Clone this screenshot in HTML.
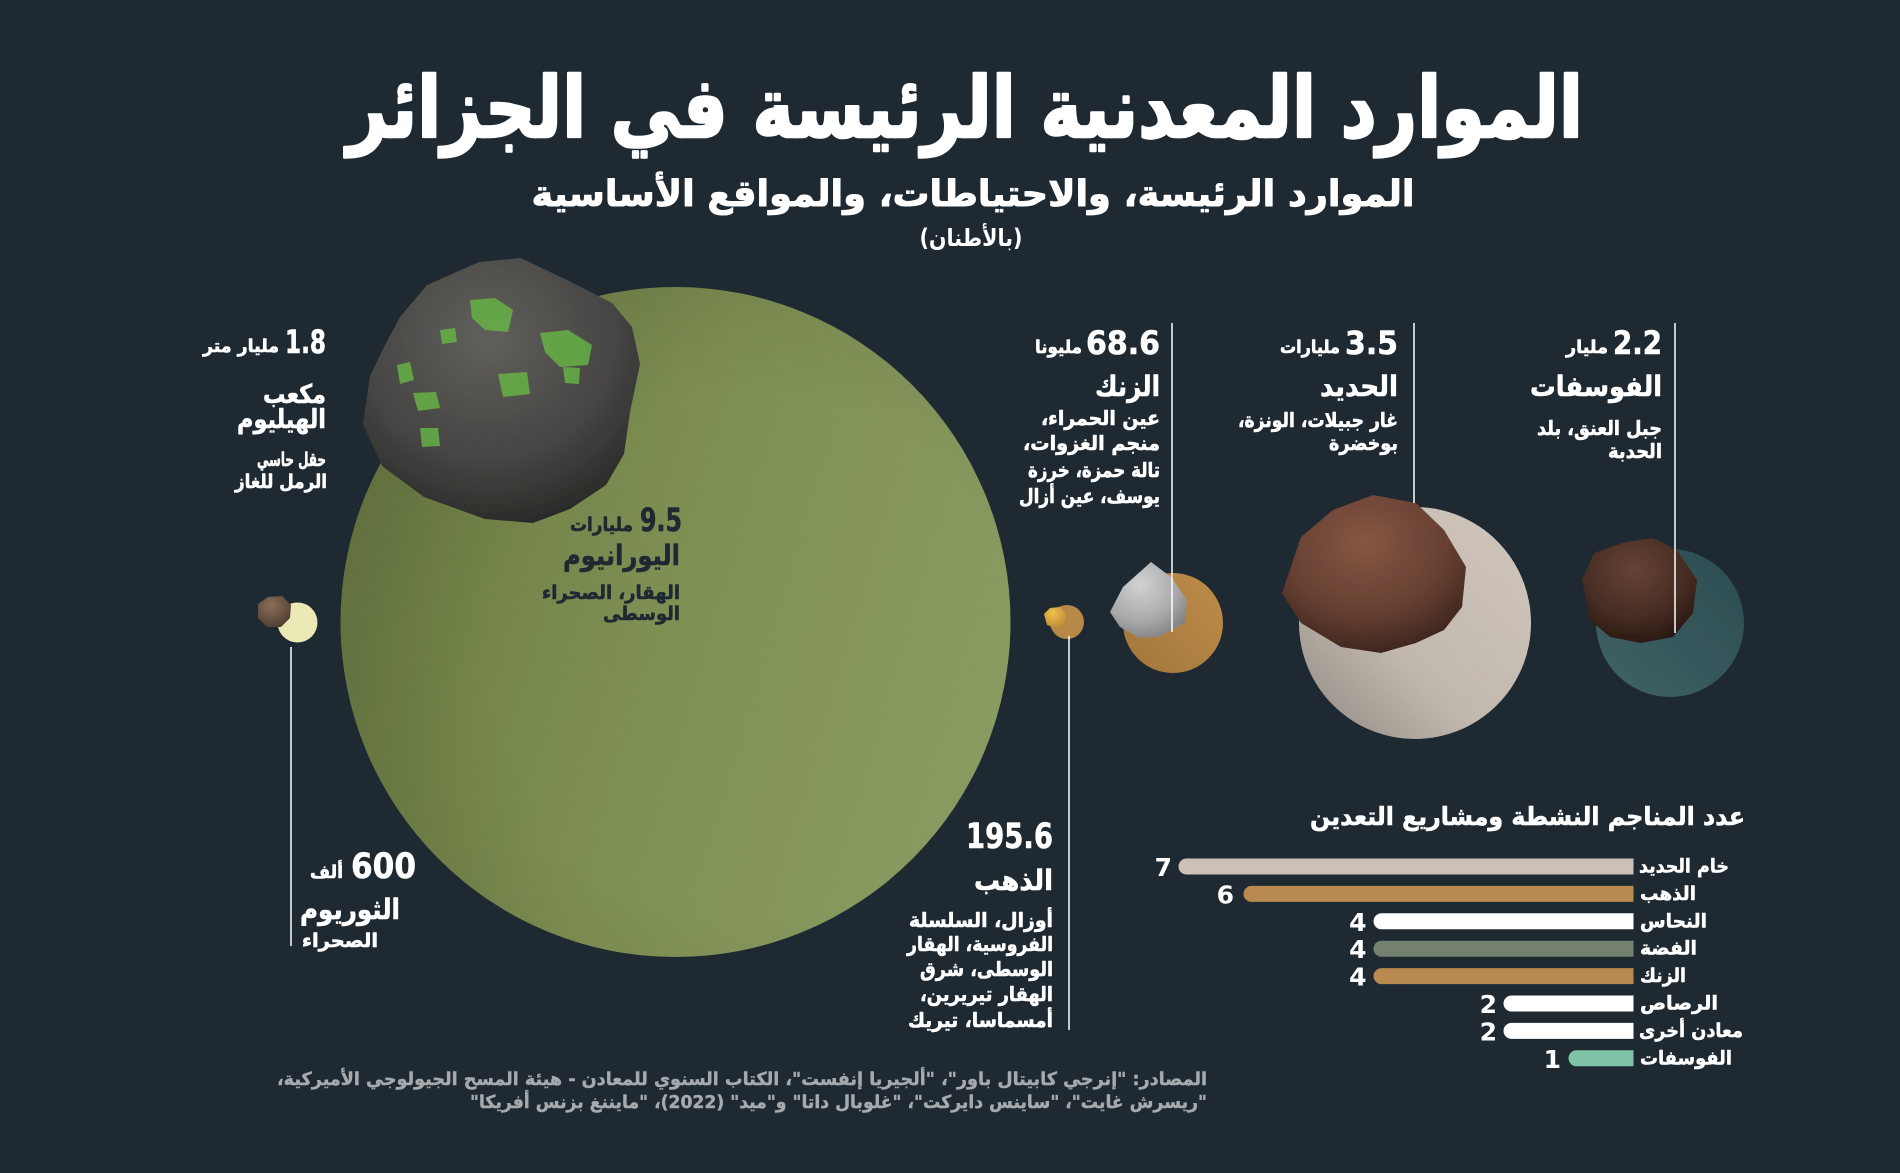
<!DOCTYPE html>
<html><head><meta charset="utf-8">
<style>
html,body{margin:0;padding:0;background:#1e2932;}
svg{display:block;}
text{font-family:"DejaVu Sans","Liberation Sans",sans-serif;font-weight:bold;}
</style></head>
<body>
<svg width="1900" height="1173" viewBox="0 0 1900 1173" xmlns="http://www.w3.org/2000/svg">
<defs>
  <linearGradient id="gG" x1="0" y1="0.35" x2="1" y2="0.65">
    <stop offset="0" stop-color="#6d7e45"/>
    <stop offset="0.45" stop-color="#829356"/>
    <stop offset="1" stop-color="#8fa066"/>
  </linearGradient>
  <radialGradient id="gGv" cx="0.62" cy="0.55" r="0.6">
    <stop offset="0.65" stop-color="#000" stop-opacity="0"/>
    <stop offset="1" stop-color="#000" stop-opacity="0.08"/>
  </radialGradient>
  <linearGradient id="gIron" x1="0" y1="1" x2="1" y2="0">
    <stop offset="0" stop-color="#938d86"/>
    <stop offset="0.4" stop-color="#c6bdb3"/>
    <stop offset="1" stop-color="#d6ccc2"/>
  </linearGradient>
  <linearGradient id="gZinc" x1="0" y1="1" x2="1" y2="0">
    <stop offset="0" stop-color="#a77a3e"/>
    <stop offset="1" stop-color="#c4914b"/>
  </linearGradient>
  <linearGradient id="gPh" x1="0" y1="1" x2="1" y2="0">
    <stop offset="0" stop-color="#426769"/>
    <stop offset="1" stop-color="#2f4e53"/>
  </linearGradient>
  <radialGradient id="gU" cx="0.45" cy="0.3" r="0.75">
    <stop offset="0" stop-color="#65635f"/>
    <stop offset="0.6" stop-color="#4a4947"/>
    <stop offset="1" stop-color="#2a2a29"/>
  </radialGradient>
  <radialGradient id="gFe" cx="0.45" cy="0.3" r="0.75">
    <stop offset="0" stop-color="#8a5b47"/>
    <stop offset="0.6" stop-color="#6a4234"/>
    <stop offset="1" stop-color="#3a2620"/>
  </radialGradient>
  <radialGradient id="gP" cx="0.45" cy="0.3" r="0.75">
    <stop offset="0" stop-color="#6a4538"/>
    <stop offset="0.6" stop-color="#4a3028"/>
    <stop offset="1" stop-color="#2a1c18"/>
  </radialGradient>
  <radialGradient id="gZn" cx="0.4" cy="0.3" r="0.8">
    <stop offset="0" stop-color="#d8d8d8"/>
    <stop offset="0.6" stop-color="#aeaeae"/>
    <stop offset="1" stop-color="#7d7d7d"/>
  </radialGradient>
  <radialGradient id="gHe" cx="0.4" cy="0.3" r="0.8">
    <stop offset="0" stop-color="#8a6f58"/>
    <stop offset="1" stop-color="#4a3a30"/>
  </radialGradient>
  <radialGradient id="gAu" cx="0.4" cy="0.3" r="0.8">
    <stop offset="0" stop-color="#f0c050"/>
    <stop offset="1" stop-color="#b8862c"/>
  </radialGradient>
  <filter id="grain" x="0" y="0" width="100%" height="100%">
    <feTurbulence type="fractalNoise" baseFrequency="0.8" numOctaves="2" seed="3" result="n"/>
    <feColorMatrix type="matrix" in="n" values="0 0 0 0 0  0 0 0 0 0  0 0 0 0 0  0 0 0 0.12 0" result="a"/>
    <feComposite in="a" in2="SourceGraphic" operator="in" result="gi"/>
    <feMerge><feMergeNode in="SourceGraphic"/><feMergeNode in="gi"/></feMerge>
  </filter>
</defs>

<rect width="1900" height="1173" fill="#1e2932"/>

<!-- Title -->
<text x="965" y="137" text-anchor="middle" font-size="84" fill="#fff" stroke="#fff" stroke-width="2.5" stroke-linejoin="round" textLength="1236" lengthAdjust="spacingAndGlyphs">&#x202B;الموارد المعدنية الرئيسة في الجزائر&#x202C;</text>
<text x="973" y="206" text-anchor="middle" font-size="36" fill="#fff" stroke="#fff" stroke-width="1" stroke-linejoin="round" textLength="883" lengthAdjust="spacingAndGlyphs">&#x202B;الموارد الرئيسة، والاحتياطات، والمواقع الأساسية&#x202C;</text>
<text x="971" y="246" text-anchor="middle" font-size="24" fill="#fff" textLength="103" lengthAdjust="spacingAndGlyphs">&#x202B;(بالأطنان)&#x202C;</text>

<!-- Big green circle -->
<g filter="url(#grain)">
<circle cx="675.5" cy="622" r="335" fill="url(#gG)"/>
</g>
<circle cx="675.5" cy="622" r="335" fill="url(#gGv)"/>

<!-- Uranium rock -->
<g filter="url(#grain)">
  <path d="M400,317 L427,285 L479,262 L521,258 L569,281 L612,303 L632,327 L640,364 L630,412 L624,454 L606,485 L570,509 L533,523 L485,519 L424,497 L382,466 L363,424 L370,376 L385,345 Z" fill="url(#gU)"/>
  <g fill="#6bbd48" opacity="0.8">
    <path d="M470,300 L495,298 L513,310 L508,332 L485,330 L472,318 Z"/>
    <path d="M540,333 L568,330 L592,345 L588,365 L560,367 L545,352 Z"/>
    <path d="M397,365 L410,362 L414,380 L400,384 Z"/>
    <path d="M413,393 L436,392 L440,408 L418,411 Z"/>
    <path d="M420,428 L438,428 L440,446 L422,447 Z"/>
    <path d="M498,374 L527,372 L530,394 L503,397 Z"/>
    <path d="M563,367 L580,368 L579,384 L565,383 Z"/>
    <path d="M440,330 L455,328 L457,342 L442,344 Z"/>
  </g>
</g>

<!-- Helium -->
<circle cx="297.5" cy="622.5" r="20" fill="#ebe9b6"/>
<path d="M258,604 L268,597 L282,596 L291,605 L290,618 L281,627 L267,627 L258,618 Z" fill="url(#gHe)"/>
<line x1="291" y1="647" x2="291" y2="946" stroke="#fff" stroke-width="1.5"/>

<!-- Gold -->
<circle cx="1067" cy="622" r="17" fill="#b88849"/>
<path d="M1044,614 L1050,608 L1060,607 L1066,613 L1065,624 L1056,628 L1047,625 Z" fill="url(#gAu)"/>
<line x1="1069" y1="636" x2="1069" y2="1030" stroke="#fff" stroke-width="1.5"/>

<!-- Zinc -->
<g filter="url(#grain)">
<circle cx="1173" cy="623" r="50" fill="url(#gZinc)"/>
<path d="M1110,612 L1123,587 L1151,562 L1171,577 L1187,600 L1185,623 L1159,637 L1139,638 L1120,627 Z" fill="url(#gZn)"/>
</g>
<line x1="1172" y1="323" x2="1172" y2="632" stroke="#fff" stroke-width="1.5"/>

<!-- Iron -->
<g filter="url(#grain)">
<circle cx="1415" cy="623" r="116" fill="url(#gIron)"/>
<path d="M1282,593 L1301,537 L1333,510 L1373,495 L1416,503 L1444,530 L1466,567 L1462,607 L1444,630 L1416,643 L1381,653 L1341,647 L1301,623 Z" fill="url(#gFe)"/>
</g>
<line x1="1414" y1="323" x2="1414" y2="503" stroke="#fff" stroke-width="1.5"/>

<!-- Phosphate -->
<g filter="url(#grain)">
<circle cx="1670" cy="623" r="74" fill="url(#gPh)"/>
<path d="M1582,580 L1594,553 L1626,542 L1653,538 L1677,550 L1697,580 L1693,613 L1673,637 L1641,643 L1610,637 L1590,620 Z" fill="url(#gP)"/>
</g>
<line x1="1675" y1="323" x2="1675" y2="633" stroke="#fff" stroke-width="1.5"/>

<!-- Helium labels -->
<g fill="#fff" stroke="#fff" stroke-width="0.6" stroke-linejoin="round" text-anchor="end">
  <text x="326" y="353" font-size="32" textLength="41" lengthAdjust="spacingAndGlyphs">1.8</text>
  <text x="279" y="352" font-size="18" textLength="76" lengthAdjust="spacingAndGlyphs">&#x202B;مليار متر&#x202C;</text>
  <text x="326" y="403" font-size="26" textLength="63" lengthAdjust="spacingAndGlyphs">&#x202B;مكعب&#x202C;</text>
  <text x="326" y="428" font-size="26" textLength="89" lengthAdjust="spacingAndGlyphs">&#x202B;الهيليوم&#x202C;</text>
  <text x="326" y="466" font-size="19" textLength="69" lengthAdjust="spacingAndGlyphs">&#x202B;حقل حاسي&#x202C;</text>
  <text x="327" y="488" font-size="19" textLength="92" lengthAdjust="spacingAndGlyphs">&#x202B;الرمل للغاز&#x202C;</text>
</g>

<!-- Uranium labels -->
<g fill="#1e2932" stroke="#1e2932" stroke-width="0.6" stroke-linejoin="round" text-anchor="end">
  <text x="682" y="531" font-size="32" textLength="42" lengthAdjust="spacingAndGlyphs">9.5</text>
  <text x="633" y="531" font-size="19" textLength="63" lengthAdjust="spacingAndGlyphs">&#x202B;مليارات&#x202C;</text>
  <text x="680" y="565" font-size="28" textLength="117" lengthAdjust="spacingAndGlyphs">&#x202B;اليورانيوم&#x202C;</text>
  <text x="680" y="599" font-size="19" textLength="138" lengthAdjust="spacingAndGlyphs">&#x202B;الهقار، الصحراء&#x202C;</text>
  <text x="680" y="620" font-size="19" textLength="77" lengthAdjust="spacingAndGlyphs">&#x202B;الوسطى&#x202C;</text>
</g>

<!-- Zinc labels -->
<g fill="#fff" stroke="#fff" stroke-width="0.6" stroke-linejoin="round" text-anchor="end">
  <text x="1160" y="354" font-size="32" textLength="74" lengthAdjust="spacingAndGlyphs">68.6</text>
  <text x="1082" y="353" font-size="18" textLength="47" lengthAdjust="spacingAndGlyphs">&#x202B;مليونا&#x202C;</text>
  <text x="1160" y="396" font-size="28" textLength="65" lengthAdjust="spacingAndGlyphs">&#x202B;الزنك&#x202C;</text>
  <text x="1160" y="425" font-size="20" textLength="119" lengthAdjust="spacingAndGlyphs">&#x202B;عين الحمراء،&#x202C;</text>
  <text x="1160" y="450" font-size="20" textLength="137" lengthAdjust="spacingAndGlyphs">&#x202B;منجم الغزوات،&#x202C;</text>
  <text x="1160" y="477" font-size="20" textLength="132" lengthAdjust="spacingAndGlyphs">&#x202B;تالة حمزة، خرزة&#x202C;</text>
  <text x="1160" y="503" font-size="20" textLength="141" lengthAdjust="spacingAndGlyphs">&#x202B;يوسف، عين أزال&#x202C;</text>
</g>

<!-- Iron labels -->
<g fill="#fff" stroke="#fff" stroke-width="0.6" stroke-linejoin="round" text-anchor="end">
  <text x="1398" y="354" font-size="32" textLength="53" lengthAdjust="spacingAndGlyphs">3.5</text>
  <text x="1340" y="353" font-size="18" textLength="60" lengthAdjust="spacingAndGlyphs">&#x202B;مليارات&#x202C;</text>
  <text x="1398" y="396" font-size="28" textLength="78" lengthAdjust="spacingAndGlyphs">&#x202B;الحديد&#x202C;</text>
  <text x="1398" y="427" font-size="20" textLength="160" lengthAdjust="spacingAndGlyphs">&#x202B;غار جبيلات، الونزة،&#x202C;</text>
  <text x="1398" y="450" font-size="20" textLength="69" lengthAdjust="spacingAndGlyphs">&#x202B;بوخضرة&#x202C;</text>
</g>

<!-- Phosphate labels -->
<g fill="#fff" stroke="#fff" stroke-width="0.6" stroke-linejoin="round" text-anchor="end">
  <text x="1662" y="354" font-size="32" textLength="49" lengthAdjust="spacingAndGlyphs">2.2</text>
  <text x="1608" y="353" font-size="18" textLength="42" lengthAdjust="spacingAndGlyphs">&#x202B;مليار&#x202C;</text>
  <text x="1662" y="396" font-size="28" textLength="132" lengthAdjust="spacingAndGlyphs">&#x202B;الفوسفات&#x202C;</text>
  <text x="1662" y="435" font-size="20" textLength="125" lengthAdjust="spacingAndGlyphs">&#x202B;جبل العنق، بلد&#x202C;</text>
  <text x="1662" y="458" font-size="20" textLength="54" lengthAdjust="spacingAndGlyphs">&#x202B;الحدبة&#x202C;</text>
</g>

<!-- Gold labels -->
<g fill="#fff" stroke="#fff" stroke-width="0.6" stroke-linejoin="round" text-anchor="end">
  <text x="1053" y="848" font-size="35" textLength="87" lengthAdjust="spacingAndGlyphs">195.6</text>
  <text x="1053" y="890" font-size="28" textLength="79" lengthAdjust="spacingAndGlyphs">&#x202B;الذهب&#x202C;</text>
  <text x="1053" y="927" font-size="20" textLength="144" lengthAdjust="spacingAndGlyphs">&#x202B;أوزال، السلسلة&#x202C;</text>
  <text x="1053" y="951" font-size="20" textLength="146" lengthAdjust="spacingAndGlyphs">&#x202B;الفروسية، الهقار&#x202C;</text>
  <text x="1053" y="976" font-size="20" textLength="133" lengthAdjust="spacingAndGlyphs">&#x202B;الوسطى، شرق&#x202C;</text>
  <text x="1053" y="1001" font-size="20" textLength="133" lengthAdjust="spacingAndGlyphs">&#x202B;الهقار تيريرين،&#x202C;</text>
  <text x="1053" y="1027" font-size="20" textLength="145" lengthAdjust="spacingAndGlyphs">&#x202B;أمسماسا، تيريك&#x202C;</text>
</g>

<!-- Thorium labels -->
<g fill="#fff" stroke="#fff" stroke-width="0.6" stroke-linejoin="round" text-anchor="end">
  <text x="416" y="878" font-size="35" textLength="65" lengthAdjust="spacingAndGlyphs">600</text>
  <text x="343" y="878" font-size="18" textLength="33" lengthAdjust="spacingAndGlyphs">&#x202B;ألف&#x202C;</text>
  <text x="400" y="919" font-size="28" textLength="100" lengthAdjust="spacingAndGlyphs">&#x202B;الثوريوم&#x202C;</text>
  <text x="378" y="947" font-size="19" textLength="76" lengthAdjust="spacingAndGlyphs">&#x202B;الصحراء&#x202C;</text>
</g>

<!-- Bar chart -->
<text x="1745" y="825" text-anchor="end" font-size="25" fill="#fff" stroke="#fff" stroke-width="0.6" textLength="435" lengthAdjust="spacingAndGlyphs">&#x202B;عدد المناجم النشطة ومشاريع التعدين&#x202C;</text>

<g>
  <path d="M1633.5,858.5 H1186.5 A8,8 0 0 0 1186.5,874.5 H1633.5 Z" fill="#cbc1b8"/>
  <path d="M1633.5,885.9 H1251.5 A8,8 0 0 0 1251.5,901.9 H1633.5 Z" fill="#b98a50"/>
  <path d="M1633.5,913.3 H1381.5 A8,8 0 0 0 1381.5,929.3 H1633.5 Z" fill="#ffffff"/>
  <path d="M1633.5,940.7 H1381.5 A8,8 0 0 0 1381.5,956.7 H1633.5 Z" fill="#74816f"/>
  <path d="M1633.5,968.1 H1381.5 A8,8 0 0 0 1381.5,984.1 H1633.5 Z" fill="#b98a50"/>
  <path d="M1633.5,995.5 H1511.5 A8,8 0 0 0 1511.5,1011.5 H1633.5 Z" fill="#ffffff"/>
  <path d="M1633.5,1022.9 H1511.5 A8,8 0 0 0 1511.5,1038.9 H1633.5 Z" fill="#ffffff"/>
  <path d="M1633.5,1050.3 H1576.5 A8,8 0 0 0 1576.5,1066.3 H1633.5 Z" fill="#7ec3a6"/>
</g>
<g fill="#fff" text-anchor="end" font-size="25">
  <text x="1172" y="876">7</text>
  <text x="1234" y="903.4">6</text>
  <text x="1366.5" y="930.8">4</text>
  <text x="1366.5" y="958.2">4</text>
  <text x="1366.5" y="985.6">4</text>
  <text x="1497" y="1013">2</text>
  <text x="1497" y="1040.4">2</text>
  <text x="1561" y="1067.8">1</text>
</g>
<g fill="#fff" stroke="#fff" stroke-width="0.5" text-anchor="end" font-size="19">
  <text x="1729" y="872.5" textLength="90" lengthAdjust="spacingAndGlyphs">&#x202B;خام الحديد&#x202C;</text>
  <text x="1696" y="899.9" textLength="56" lengthAdjust="spacingAndGlyphs">&#x202B;الذهب&#x202C;</text>
  <text x="1707" y="927.3" textLength="67" lengthAdjust="spacingAndGlyphs">&#x202B;النحاس&#x202C;</text>
  <text x="1697" y="954.7" textLength="57" lengthAdjust="spacingAndGlyphs">&#x202B;الفضة&#x202C;</text>
  <text x="1686" y="982.1" textLength="46" lengthAdjust="spacingAndGlyphs">&#x202B;الزنك&#x202C;</text>
  <text x="1718" y="1009.5" textLength="78" lengthAdjust="spacingAndGlyphs">&#x202B;الرصاص&#x202C;</text>
  <text x="1743" y="1036.9" textLength="104" lengthAdjust="spacingAndGlyphs">&#x202B;معادن أخرى&#x202C;</text>
  <text x="1732" y="1064.3" textLength="92" lengthAdjust="spacingAndGlyphs">&#x202B;الفوسفات&#x202C;</text>
</g>

<!-- Sources -->
<g fill="#a6aaad" stroke="#a6aaad" stroke-width="0.4" text-anchor="end" font-size="18">
  <text x="1207" y="1085" textLength="930" lengthAdjust="spacingAndGlyphs">&#x202B;المصادر: "إنرجي كابيتال باور"، "ألجيريا إنفست"، الكتاب السنوي للمعادن - هيئة المسح الجيولوجي الأميركية،&#x202C;</text>
  <text x="1207" y="1108" textLength="737" lengthAdjust="spacingAndGlyphs">&#x202B;"ريسرش غايت"، "ساينس دايركت"، "غلوبال داتا" و"ميد" (2022)، "مايننغ بزنس أفريكا"&#x202C;</text>
</g>
</svg>
</body></html>
